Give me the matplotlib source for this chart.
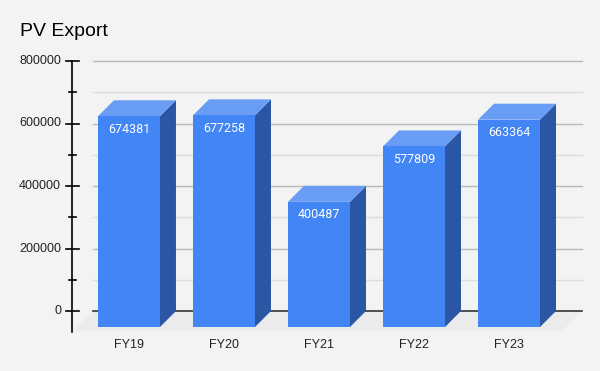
import matplotlib
matplotlib.use("Agg")
import matplotlib.pyplot as plt
from matplotlib.patches import Polygon
from matplotlib import transforms

categories = ["FY19", "FY20", "FY21", "FY22", "FY23"]
values = [674381, 677258, 400487, 577809, 663364]
major_ticks = [0, 200000, 400000, 600000, 800000]
minor_ticks = [100000, 300000, 500000, 700000]
title = "PV Export"

W, H = 600, 371
fig = plt.figure(figsize=(W / 100, H / 100), dpi=100)
fig.patch.set_facecolor("#f3f3f3")

# back plane of the 3D chart
left_px, right_px, top_px, bot_px = 93, 582, 61, 311
ax = fig.add_axes([left_px / W, 1 - bot_px / H, (right_px - left_px) / W, (bot_px - top_px) / H])
ax.set_facecolor("none")
for s in ax.spines.values():
    s.set_visible(False)
ax.set_xticks([])
ax.set_yticks([])
ax.set_ylim(0, 800000)
ax.set_xlim(-0.547, 4.6)

fig.canvas.draw()
p0 = ax.transData.transform((0, 0))
p1 = ax.transData.transform((1, 100000))
px_x = p1[0] - p0[0]          # pixels per category
px_y = (p1[1] - p0[1]) / 100000  # pixels per value unit

def dx(px):
    return px / px_x

def dy(px):
    return px / px_y

depth = 16
floor_depth = 20
bar_w = dx(62)
xs = list(range(len(categories)))
x0, x1 = ax.get_xlim()

# floor
floor = Polygon([(x0, 0), (x1, 0), (x1 - dx(floor_depth), -dy(floor_depth)),
                 (x0 - dx(floor_depth), -dy(floor_depth))],
                closed=True, facecolor="#ebebeb", edgecolor="none", clip_on=False, zorder=0)
ax.add_patch(floor)

# gridlines
for t in minor_ticks:
    ax.plot([x0, x1], [t, t], color="#dcdcdc", lw=1, zorder=1, clip_on=False)
for t in major_ticks[1:]:
    ax.plot([x0, x1], [t, t], color="#b9b9b9", lw=1, zorder=1, clip_on=False)
ax.plot([x0, x1], [0, 0], color="#333333", lw=1.2, zorder=1, clip_on=False)

# vertical axis
ax_x = x0 - dx(21)
ax.plot([ax_x, ax_x], [800000, -dy(21)], color="black", lw=1.2, zorder=2, clip_on=False)
for t in major_ticks:
    ax.plot([ax_x - dx(6), ax_x + dx(7)], [t, t], color="black", lw=1.2, zorder=2, clip_on=False)
    ax.text(ax_x - dx(11), t, f"{t}", ha="right", va="center", fontsize=9,
            family="Liberation Sans", color="#222222")
for t in minor_ticks:
    ax.plot([ax_x - dx(3), ax_x + dx(4)], [t, t], color="black", lw=1.2, zorder=2, clip_on=False)

# bars
front_c, side_c, top_c = "#4285f4", "#2a56a4", "#699df5"
ddx, ddy = dx(depth), dy(depth)
for i, (x, v) in enumerate(zip(xs, values)):
    fl = x - bar_w / 2 - ddx
    fr = x + bar_w / 2 - ddx
    fb = -ddy
    ft = v - ddy
    side = Polygon([(fr, fb), (fr, ft), (fr + ddx, ft + ddy), (fr + ddx, fb + ddy)],
                   closed=True, facecolor=side_c, edgecolor="none", clip_on=False, zorder=3 + i)
    top = Polygon([(fl, ft), (fr, ft), (fr + ddx, ft + ddy), (fl + ddx, ft + ddy)],
                  closed=True, facecolor=top_c, edgecolor="none", clip_on=False, zorder=3 + i)
    ax.add_patch(side)
    ax.add_patch(top)
    ax.bar([x - ddx], [v], bottom=-ddy, width=bar_w, color=front_c, clip_on=False, zorder=3 + i)
    ax.text(x - ddx, ft - dy(13), f"{v}", ha="center", va="center", fontsize=9,
            family="Roboto", color="white", zorder=10)
    ax.text(x - ddx, -dy(34), categories[i], ha="center", va="center", fontsize=9,
            family="Liberation Sans", color="#222222")

fig.text(20 / W, 1 - 31 / H, title, ha="left", va="center", fontsize=14,
         family="Liberation Sans", color="black")

fig.savefig("out.png", dpi=100, facecolor=fig.get_facecolor())
